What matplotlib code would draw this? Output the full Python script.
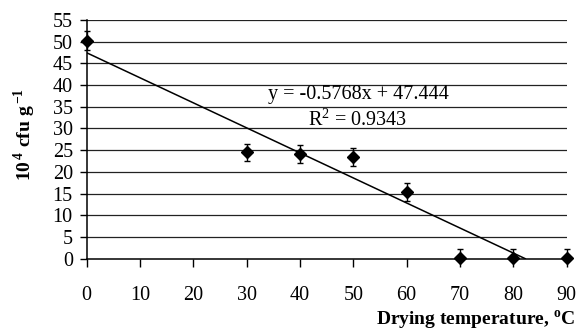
import numpy as np
import matplotlib
matplotlib.use("Agg")
import matplotlib.pyplot as plt

plt.rcParams['font.family'] = ['Liberation Serif', 'DejaVu Serif']
plt.rcParams['mathtext.fontset'] = 'custom'
plt.rcParams['mathtext.rm'] = 'Liberation Serif'
plt.rcParams['mathtext.bf'] = 'Liberation Serif:bold'

temp = [0, 30, 40, 50, 60, 70, 80, 90]
cfu = [50.2, 24.5, 24.1, 23.4, 15.4, 0.2, 0.2, 0.2]
err_up = [2.2, 2.0, 2.0, 2.0, 2.0, 2.0, 2.0, 2.0]
err_low = [2.2, 2.0, 2.0, 2.0, 2.0, 0.2, 0.2, 0.2]
slope = -0.5768
intercept = 47.444
xticks = [0, 10, 20, 30, 40, 50, 60, 70, 80, 90]
yticks = [0, 5, 10, 15, 20, 25, 30, 35, 40, 45, 50, 55]

fig = plt.figure(figsize=(5.77, 3.32), dpi=100)
ax = fig.add_axes([0.1503, 0.2208, 0.8317, 0.719])

for yv in yticks[1:]:
    ax.axhline(yv, color='#222222', lw=0.9, zorder=1)

# trend line from x=0 down to where it meets the axis
x_end = -intercept / slope
ax.plot([0, x_end], [intercept, 0], color='black', lw=1.1, zorder=2)

ax.errorbar(temp, cfu, yerr=[err_low, err_up], fmt='D', color='black',
            ms=6.5, capsize=2.5, elinewidth=1, capthick=1, clip_on=False, zorder=3)

ax.set_xlim(0, 90)
ax.set_ylim(0, 55)
ax.set_xticks(xticks)
ax.set_yticks(yticks)
for s in ['top', 'right']:
    ax.spines[s].set_visible(False)
ax.spines['left'].set_linewidth(1.1)
ax.spines['bottom'].set_linewidth(1.1)
ax.tick_params(axis='x', direction='out', length=6, width=1, pad=14, labelsize=14.5)
ax.tick_params(axis='y', direction='out', length=5, width=1, pad=5, labelsize=14.5)

fig.text(358 / 577, 1 - 95 / 332, 'y = -0.5768x + 47.444', ha='center', va='center', fontsize=14.5)
fig.text(358 / 577, 1 - 120 / 332, r'R$^{2}$ = 0.9343', ha='center', va='center', fontsize=14.5)

fig.text(25 / 577, 1 - 134 / 332, r'$\mathbf{10}^{\,\mathbf{4}}$ cfu g$^{\,\mathbf{-1}}$', rotation=90,
         ha='center', va='center', fontsize=14, fontweight='bold')
fig.text(575 / 577, 1 - 325 / 332, r'Drying temperature, $^{\mathbf{o}}$C', ha='right', va='baseline',
         fontsize=14, fontweight='bold')

fig.savefig('out.png', dpi=100)
